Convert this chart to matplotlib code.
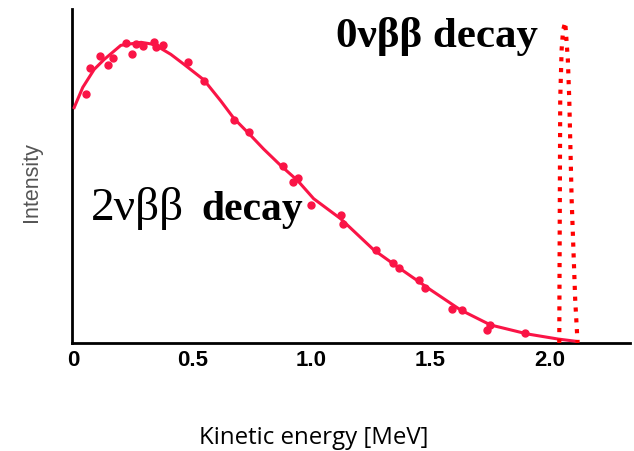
import matplotlib.pyplot as plt

# 2vbb spectrum, smooth curve
curve_e = [0.004, 0.04, 0.088, 0.13, 0.20, 0.285, 0.34, 0.41, 0.465, 0.549, 0.62,
           0.675, 0.746, 0.80, 0.872, 0.943, 1.01, 1.124, 1.262, 1.363, 1.501,
           1.627, 1.753, 1.908, 2.038, 2.119]
curve_i = [0.783, 0.85, 0.91, 0.943, 0.99, 1.0, 0.993, 0.96, 0.927, 0.875, 0.805,
           0.747, 0.69, 0.645, 0.59, 0.54, 0.48, 0.413, 0.31, 0.253, 0.177,
           0.11, 0.06, 0.03, 0.013, 0.005]

# measured points
data_e = [0.055, 0.071, 0.113, 0.147, 0.168, 0.222, 0.247, 0.264, 0.294, 0.34,
          0.348, 0.377, 0.482, 0.549, 0.675, 0.738, 0.88, 0.922, 0.943, 1.0,
          1.124, 1.132, 1.27, 1.342, 1.367, 1.451, 1.48, 1.593, 1.635, 1.74,
          1.753, 1.90]
data_i = [0.827, 0.913, 0.953, 0.923, 0.947, 0.997, 0.96, 0.993, 0.987, 1.0,
          0.983, 0.99, 0.933, 0.873, 0.743, 0.703, 0.587, 0.537, 0.55, 0.46,
          0.427, 0.397, 0.31, 0.267, 0.25, 0.21, 0.183, 0.113, 0.11, 0.043,
          0.06, 0.033]

# 0vbb peak
peak_e = [2.042, 2.046, 2.052, 2.058, 2.067, 2.078, 2.084, 2.094, 2.109, 2.119]
peak_i = [0.0, 0.81, 0.977, 1.04, 1.067, 0.943, 0.81, 0.477, 0.143, 0.0]

xticks = [0, 0.5, 1.0, 1.5, 2.0]
xtick_labels = ["0", "0.5", "1.0", "1.5", "2.0"]

RED = "#FA1446"

fig = plt.figure(figsize=(6.34, 4.51), dpi=100)
ax = fig.add_axes([0.114, 0.2395, 0.88, 0.74])

ax.plot(curve_e, curve_i, color=RED, lw=2.2, zorder=3)
ax.plot(data_e, data_i, "o", color=RED, ms=5, zorder=3)
ax.plot(peak_e, peak_i, color="#FF0000", lw=3, dashes=(1, 1.6), zorder=4)

ax.set_xlim(-0.004, 2.34)
ax.set_ylim(0, 1.11)

ax.set_xticks(xticks)
ax.set_xticklabels(xtick_labels, fontsize=16, fontweight="bold", family="Liberation Sans")
ax.set_yticks([])
ax.tick_params(axis="x", length=0, pad=5)

for s in ["top", "right"]:
    ax.spines[s].set_visible(False)
for s in ["left", "bottom"]:
    ax.spines[s].set_linewidth(2)
    ax.spines[s].set_color("black")

fig.text(32 / 634, 0.597, "Intensity", fontsize=15.5, color="#555555",
         family="Liberation Sans", rotation=90, ha="center", va="center")
fig.text(313.5 / 634, 0.016, "Kinetic energy [MeV]", fontsize=17.3,
         family="Open Sans", ha="center", va="baseline")

ax.text(1.105, 0.983, "0νββ decay", fontsize=31, fontweight="bold",
        family="Liberation Serif", ha="left", va="baseline")
ax.text(0.0755, 0.41, "2νββ", fontsize=34, family="Liberation Serif",
        ha="left", va="baseline")
ax.text(0.537, 0.41, "decay", fontsize=30, fontweight="bold",
        family="Liberation Serif", ha="left", va="baseline")

fig.savefig("out.png", dpi=100)
